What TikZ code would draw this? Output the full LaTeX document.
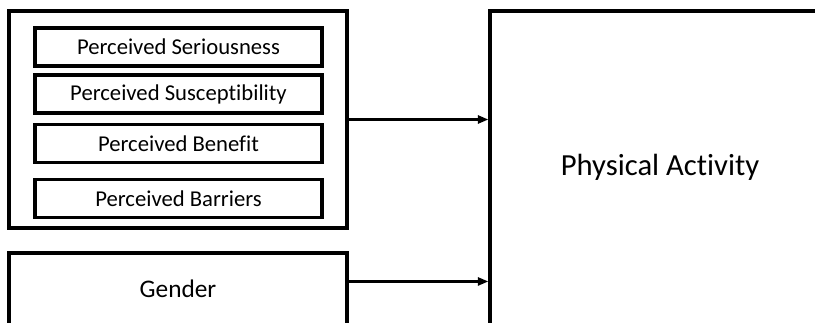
\documentclass[tikz,border=0pt]{standalone}
\usepackage{fontspec}
\setmainfont[Ligatures=NoCommon]{Carlito}
\usepackage{tikz}
\usetikzlibrary{arrows.meta}

\begin{document}
\begin{tikzpicture}[x=0.75pt, y=-0.75pt, line width=2.3pt,
    factor/.style={draw,rectangle,fill=white,minimum width=287*0.75pt,minimum height=38*0.75pt,inner sep=0pt,font=\fontsize{17}{20}\selectfont},
    >={Triangle[length=8pt,width=6pt]}]
  \useasboundingbox (0,0) rectangle (815,322);
  \clip (0,0) rectangle (815,322);
  % Nodes
  \node[draw,rectangle,minimum width=338*0.75pt,minimum height=217*0.75pt] (Beliefs) at (178,119.5) {};
  \node[factor] (Seriousness) at (178.5,47) {Perceived Seriousness};
  \node[factor] (Susceptibility) at (178.5,94) {Perceived Susceptibility};
  \node[factor] (Benefit) at (178.5,143.5) {Perceived Benefit};
  \node[factor] (Barriers) at (178.5,198.5) {Perceived Barriers};

  \node[draw,rectangle,minimum width=338*0.75pt,minimum height=80*0.75pt,
    label={[font=\fontsize{19}{22}\selectfont,yshift=3.5pt]center:Gender}] (Gender) at (178,293) {};

  \node[draw,rectangle,minimum width=340*0.75pt,minimum height=340*0.75pt,
    label={[font=\fontsize{23}{27}\selectfont,yshift=10.5pt]center:Physical Activity}] (Activity) at (660,181) {};

  \coordinate (GenderOut) at ([yshift=-30*0.75pt]Gender.north east);

  % Edges
  \draw[->] (Beliefs.east) -- (Beliefs.east -| Activity.west);
  \draw[->] (GenderOut) -- (GenderOut -| Activity.west);
\end{tikzpicture}
\end{document}
